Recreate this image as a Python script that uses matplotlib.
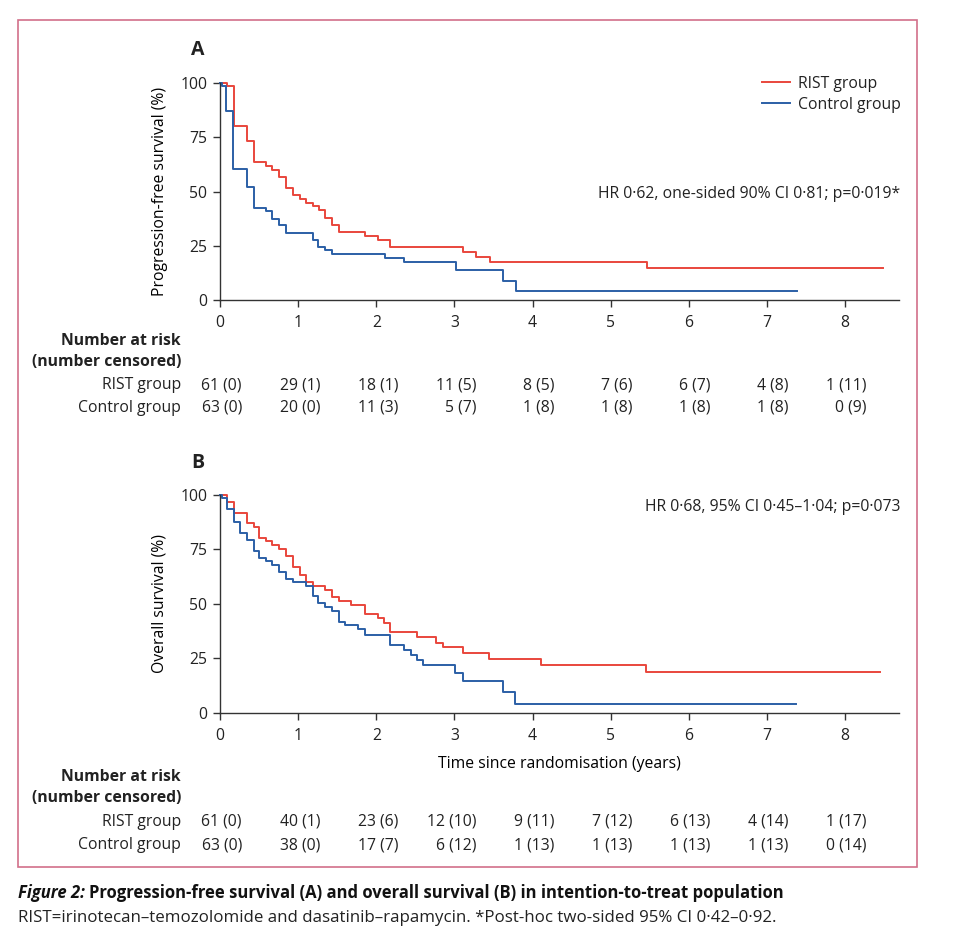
import matplotlib
matplotlib.use("Agg")
import matplotlib.pyplot as plt
from matplotlib.patches import Rectangle
from matplotlib.transforms import blended_transform_factory

plt.rcParams["font.family"] = ["Open Sans", "DejaVu Sans"]
plt.rcParams["font.size"] = 11.3
plt.rcParams["text.color"] = "#222222"

RED = "#e9463c"
BLUE = "#2b5fa6"
FS = 11.3

# --- data (time in years, survival in %) ---
years = [0, 1, 2, 3, 4, 5, 6, 7, 8]

pfs_rist_t = [0, 0.09, 0.18, 0.34, 0.43, 0.59, 0.67, 0.76, 0.85, 0.93, 1.02, 1.10, 1.19,
              1.27, 1.35, 1.43, 1.52, 1.85, 2.02, 2.18, 3.11, 3.28, 3.45, 5.46, 8.48]
pfs_rist_s = [100, 98.4, 80.3, 73.5, 63.7, 61.8, 60.0, 56.6, 51.5, 48.2, 46.5, 44.8, 43.1,
              41.3, 37.8, 34.5, 31.2, 29.3, 27.6, 24.3, 22.0, 19.6, 17.4, 14.7, 14.7]

pfs_ctrl_t = [0, 0.02, 0.08, 0.17, 0.34, 0.43, 0.59, 0.67, 0.76, 0.85, 1.19, 1.26, 1.35,
              1.43, 2.11, 2.35, 3.02, 3.62, 3.79, 7.38]
pfs_ctrl_s = [100, 98.4, 87.2, 60.2, 52.2, 42.6, 40.9, 37.5, 34.5, 31.1, 27.8, 24.5, 22.9,
              21.3, 19.4, 17.3, 13.7, 8.8, 4.1, 4.1]

os_rist_t = [0, 0.09, 0.18, 0.34, 0.43, 0.50, 0.59, 0.67, 0.76, 0.85, 0.93, 1.02, 1.10,
             1.19, 1.35, 1.43, 1.52, 1.68, 1.85, 2.02, 2.10, 2.18, 2.52, 2.76, 2.85, 3.11,
             3.44, 4.11, 5.45, 8.45]
os_rist_s = [100, 96.9, 91.9, 87.0, 85.1, 80.4, 78.7, 77.0, 75.3, 71.8, 66.8, 63.4, 60.0,
             58.2, 56.5, 53.3, 51.5, 49.6, 45.3, 43.3, 41.3, 37.1, 34.9, 32.2, 30.0, 27.4,
             24.5, 21.9, 18.6, 18.6]

os_ctrl_t = [0, 0.03, 0.09, 0.18, 0.26, 0.34, 0.43, 0.50, 0.59, 0.67, 0.76, 0.85, 0.93,
             1.10, 1.19, 1.26, 1.35, 1.43, 1.52, 1.60, 1.77, 1.85, 2.18, 2.35, 2.44, 2.52,
             2.60, 3.01, 3.11, 3.62, 3.78, 7.37]
os_ctrl_s = [100, 98.4, 93.7, 87.4, 82.4, 79.2, 74.4, 71.1, 69.5, 67.7, 64.6, 61.6, 59.9,
             58.3, 53.4, 50.2, 48.7, 46.9, 41.7, 40.1, 38.3, 35.8, 31.2, 28.8, 26.6, 24.2,
             21.9, 18.1, 14.4, 9.3, 4.1, 4.1]

# number at risk (number censored)
pfs_rist_risk = [61, 29, 18, 11, 8, 7, 6, 4, 1]
pfs_rist_cens = [0, 1, 1, 5, 5, 6, 7, 8, 11]
pfs_ctrl_risk = [63, 20, 11, 5, 1, 1, 1, 1, 0]
pfs_ctrl_cens = [0, 0, 3, 7, 8, 8, 8, 8, 9]

os_rist_risk = [61, 40, 23, 12, 9, 7, 6, 4, 1]
os_rist_cens = [0, 1, 6, 10, 11, 12, 13, 14, 17]
os_ctrl_risk = [63, 38, 17, 6, 1, 1, 1, 1, 0]
os_ctrl_cens = [0, 0, 7, 12, 13, 13, 13, 13, 14]

W, H = 960, 940


def fx(px):
    return px / W


def fy(py):
    return 1 - py / H


fig = plt.figure(figsize=(9.6, 9.4), dpi=100)

# pink frame around the figure body
fig.patches.append(Rectangle((fx(18), fy(867)), fx(917) - fx(18), fy(20) - fy(867),
                             transform=fig.transFigure, fill=False,
                             edgecolor="#d2708a", linewidth=1.2))

ax_a = fig.add_axes([fx(220), fy(300), fx(899) - fx(220), fy(83) - fy(300)])
ax_b = fig.add_axes([fx(220), fy(712.7), fx(899) - fx(220), fy(495) - fy(712.7)])


def style_axis(ax, ylabel):
    ax.set_xlim(0, 8.69)
    ax.set_ylim(0, 100)
    ax.set_xticks(years)
    ax.set_yticks([0, 25, 50, 75, 100])
    for s in ["top", "right"]:
        ax.spines[s].set_visible(False)
    for s in ["left", "bottom"]:
        ax.spines[s].set_linewidth(1.0)
        ax.spines[s].set_color("#333333")
    ax.tick_params(direction="out", length=5, width=1.0, color="#333333",
                   labelsize=FS, pad=4, labelcolor="#222222")
    ax.tick_params(axis="x", pad=6)
    ax.set_ylabel(ylabel, fontsize=FS, labelpad=9)
    ax.patch.set_visible(False)


def risk_rows(ax, y_head, y_rows, rist_n, rist_c, ctrl_n, ctrl_c):
    tr = blended_transform_factory(ax.transData, fig.transFigure)
    fig.text(fx(181), fy(y_head), "Number at risk", ha="right", va="center",
             fontweight="bold", fontsize=FS)
    fig.text(fx(181), fy(y_head + 21), "(number censored)", ha="right", va="center",
             fontweight="bold", fontsize=FS)
    for yy, label, n, c in [(y_rows[0], "RIST group", rist_n, rist_c),
                            (y_rows[1], "Control group", ctrl_n, ctrl_c)]:
        fig.text(fx(181), fy(yy), label, ha="right", va="center", fontsize=FS)
        for x, a, b in zip(years, n, c):
            ax.text(x + 0.28, fy(yy), f"{a} ({b})", transform=tr, ha="right",
                    va="center", fontsize=FS)


# Panel A
ax_a.step(pfs_rist_t, pfs_rist_s, where="post", color=RED, lw=1.4, clip_on=False,
          label="RIST group")
ax_a.step(pfs_ctrl_t, pfs_ctrl_s, where="post", color=BLUE, lw=1.4, clip_on=False,
          label="Control group")
style_axis(ax_a, "Progression-free survival (%)")
ax_a.legend(loc="upper right", bbox_to_anchor=(fx(909), fy(68)),
            bbox_transform=fig.transFigure, frameon=False, fontsize=FS,
            handlelength=1.8, handletextpad=0.5, labelspacing=0.3, borderpad=0)
fig.text(fx(900), fy(194), "HR 0·62, one-sided 90% CI 0·81; p=0·019*", ha="right",
         va="center", fontsize=FS)
fig.text(fx(198), fy(50), "A", fontweight="bold", fontsize=14, ha="center", va="center")
risk_rows(ax_a, 341, (385, 408), pfs_rist_risk, pfs_rist_cens, pfs_ctrl_risk, pfs_ctrl_cens)

# Panel B
ax_b.step(os_rist_t, os_rist_s, where="post", color=RED, lw=1.4, clip_on=False)
ax_b.step(os_ctrl_t, os_ctrl_s, where="post", color=BLUE, lw=1.4, clip_on=False)
style_axis(ax_b, "Overall survival (%)")
ax_b.set_xlabel("Time since randomisation (years)", fontsize=FS, labelpad=9)
fig.text(fx(900), fy(507), "HR 0·68, 95% CI 0·45–1·04; p=0·073", ha="right",
         va="center", fontsize=FS)
fig.text(fx(198), fy(463), "B", fontweight="bold", fontsize=14, ha="center", va="center")
risk_rows(ax_b, 777, (822, 845), os_rist_risk, os_rist_cens, os_ctrl_risk, os_ctrl_cens)

# caption below the frame
t1 = fig.text(fx(18), fy(893), "Figure 2:", fontweight="bold", fontstyle="italic",
              fontsize=12, va="center", ha="left", color="#111111")
renderer = fig.canvas.get_renderer()
bb = t1.get_window_extent(renderer)
fig.text(bb.x1 / W + fx(4), fy(893),
         "Progression-free survival (A) and overall survival (B) in intention-to-treat population",
         fontweight="bold", fontsize=12, va="center", ha="left", color="#111111")
fig.text(fx(18), fy(918),
         "RIST=irinotecan–temozolomide and dasatinib–rapamycin. *Post-hoc two-sided 95% CI 0·42–0·92.",
         fontsize=12.2, va="center", ha="left", color="#222222")

fig.savefig("out.png", dpi=100)
